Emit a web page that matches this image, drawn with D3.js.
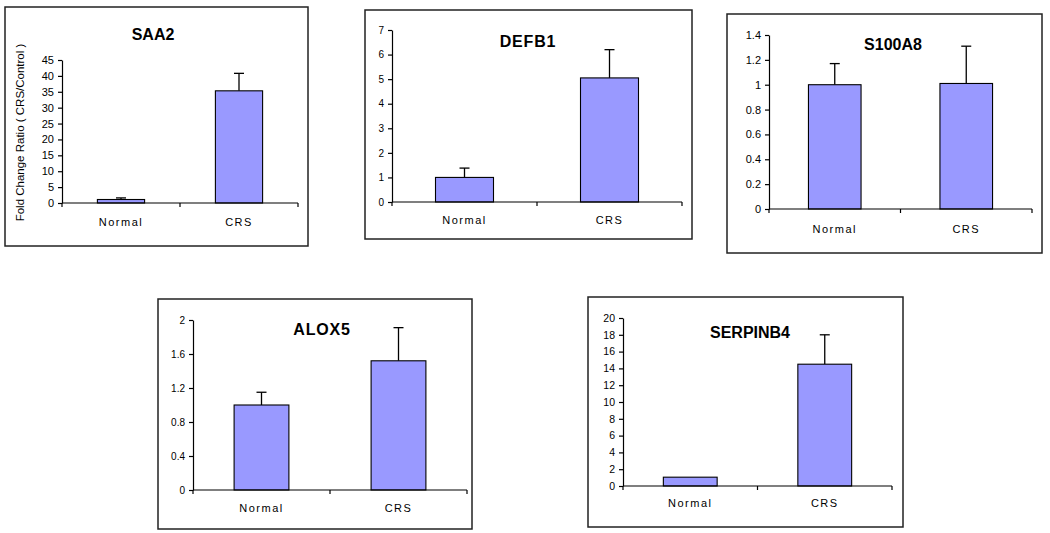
<!DOCTYPE html>
<html>
<head>
<meta charset="utf-8">
<script src="https://cdn.jsdelivr.net/npm/d3@7"></script>
<style>
  html, body { margin: 0; padding: 0; background: #fff; }
  svg { display: block; }
  text { font-family: "Liberation Sans", Arial, sans-serif; fill: #000; }
</style>
</head>
<body>
<svg id="chart" width="1050" height="533"></svg>
<script>
// ---- data ----
const genes = ["SAA2", "DEFB1", "S100A8", "ALOX5", "SERPINB4"];
const categories = ["Normal", "CRS"];
const normalMeans = [1.1, 1.0, 1.0, 1.0, 1.05];
const crsMeans = [35.3, 5.05, 1.01, 1.52, 14.5];
const normalErrUpper = [0.5, 0.38, 0.17, 0.15, 0.0];
const crsErrUpper = [5.5, 1.15, 0.30, 0.39, 3.5];
const yMaxima = [45, 7, 1.4, 2, 20];
const yTickValues = [
  [0, 5, 10, 15, 20, 25, 30, 35, 40, 45],
  [0, 1, 2, 3, 4, 5, 6, 7],
  [0, 0.2, 0.4, 0.6, 0.8, 1, 1.2, 1.4],
  [0, 0.4, 0.8, 1.2, 1.6, 2],
  [0, 2, 4, 6, 8, 10, 12, 14, 16, 18, 20]
];
const yAxisTitle = "Fold Change Ratio ( CRS/Control )";

// ---- layout (pixel geometry, kept separate from data) ----
const layout = [
  { box: [5, 7, 308, 246],   x0: 62,  x1: 298, y0: 203, yTop: 60,  tx: 153, ty: 40,  ly: 226, tickFont: 11,   showYTitle: true },
  { box: [365, 10, 692, 239], x0: 392, x1: 682, y0: 202, yTop: 30,  tx: 528, ty: 47,  ly: 224, tickFont: 10,   showYTitle: false },
  { box: [727, 14, 1042, 253], x0: 769, x1: 1032, y0: 209, yTop: 35, tx: 893, ty: 50,  ly: 233, tickFont: 11,   showYTitle: false },
  { box: [158, 299, 472, 529], x0: 193, x1: 467, y0: 490, yTop: 320, tx: 322, ty: 335, ly: 512, tickFont: 10,   showYTitle: false },
  { box: [588, 297, 903, 527], x0: 623, x1: 892, y0: 486, yTop: 318, tx: 750, ty: 338, ly: 507, tickFont: 10.5, showYTitle: false }
];

const svg = d3.select("#chart");
const barFill = "#9999FF";

genes.forEach((gene, i) => {
  const L = layout[i];
  const g = svg.append("g");

  // panel frame
  g.append("rect")
    .attr("x", L.box[0]).attr("y", L.box[1])
    .attr("width", L.box[2] - L.box[0]).attr("height", L.box[3] - L.box[1])
    .attr("fill", "#fff").attr("stroke", "#222").attr("stroke-width", 1.5);

  const x = d3.scaleBand().domain(categories).range([L.x0, L.x1])
    .paddingInner(0.6).paddingOuter(0.3);
  const y = d3.scaleLinear().domain([0, yMaxima[i]]).range([L.y0, L.yTop]);

  const vals = [normalMeans[i], crsMeans[i]];
  const errs = [normalErrUpper[i], crsErrUpper[i]];
  const rows = categories.map((c, k) => ({ cat: c, v: vals[k], e: errs[k] }));

  // error bars (upper only), drawn behind bars
  const eb = g.append("g");
  rows.forEach(r => {
    if (r.e <= 0) return;
    const cx = x(r.cat) + x.bandwidth() / 2;
    eb.append("line").attr("x1", cx).attr("x2", cx)
      .attr("y1", y(r.v)).attr("y2", y(r.v + r.e))
      .attr("stroke", "#000").attr("stroke-width", 1.3);
    eb.append("line").attr("x1", cx - 5).attr("x2", cx + 5)
      .attr("y1", y(r.v + r.e)).attr("y2", y(r.v + r.e))
      .attr("stroke", "#000").attr("stroke-width", 1.3);
  });

  // bars
  g.selectAll("rect.bar").data(rows).enter().append("rect")
    .attr("class", "bar")
    .attr("x", d => x(d.cat))
    .attr("y", d => y(d.v))
    .attr("width", x.bandwidth())
    .attr("height", d => y(0) - y(d.v))
    .attr("fill", barFill).attr("stroke", "#000").attr("stroke-width", 1.1);

  // y axis
  const yAxis = d3.axisLeft(y).tickValues(yTickValues[i])
    .tickSize(4).tickPadding(4).tickSizeOuter(0)
    .tickFormat(d => String(+d.toFixed(2)));
  const ya = g.append("g").attr("transform", `translate(${L.x0},0)`).call(yAxis);
  ya.select(".domain").attr("stroke", "#000").attr("stroke-width", 1.2);
  ya.selectAll(".tick line").attr("stroke", "#000").attr("stroke-width", 1.2);
  ya.selectAll(".tick text")
    .attr("font-size", L.tickFont)
    .attr("font-family", "Liberation Sans, Arial, sans-serif")
    .attr("fill", "#000");

  // x axis: line with ticks at category boundaries
  g.append("line").attr("x1", L.x0).attr("x2", L.x1).attr("y1", L.y0).attr("y2", L.y0)
    .attr("stroke", "#000").attr("stroke-width", 1.2);
  const step = x.step();
  const boundaries = [L.x0, L.x0 + step, L.x1];
  boundaries.forEach(bx => {
    g.append("line").attr("x1", bx).attr("x2", bx).attr("y1", L.y0).attr("y2", L.y0 + 4)
      .attr("stroke", "#000").attr("stroke-width", 1.2);
  });

  // category labels
  categories.forEach(c => {
    g.append("text")
      .attr("x", x(c) + x.bandwidth() / 2)
      .attr("y", L.ly)
      .attr("text-anchor", "middle")
      .attr("font-size", 11)
      .attr("letter-spacing", "1.5px")
      .text(c);
  });

  // title
  g.append("text")
    .attr("x", L.tx).attr("y", L.ty)
    .attr("text-anchor", "middle")
    .attr("font-size", 16).attr("font-weight", "bold")
    .attr("letter-spacing", gene === "DEFB1" || gene === "ALOX5" ? "0.8px" : "0px")
    .text(gene);

  // y-axis title (only first panel)
  if (L.showYTitle) {
    g.append("text")
      .attr("transform", `translate(24,${(L.box[1] + L.box[3]) / 2 + 6}) rotate(-90)`)
      .attr("text-anchor", "middle")
      .attr("font-size", 11.5)
      .text(yAxisTitle);
  }
});
</script>
</body>
</html>
